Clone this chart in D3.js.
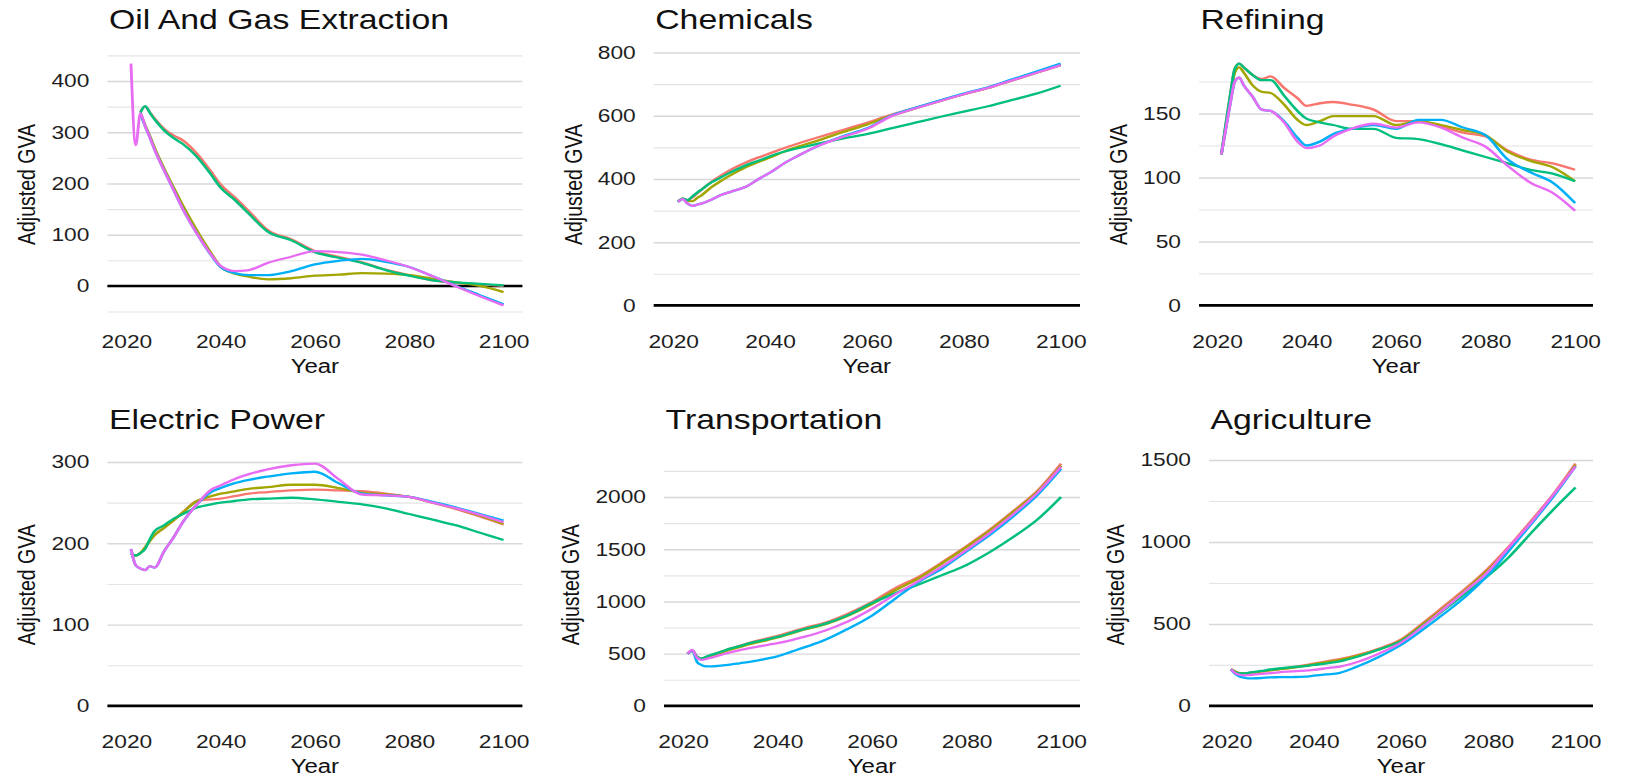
<!DOCTYPE html>
<html><head><meta charset="utf-8">
<script src="https://cdn.jsdelivr.net/npm/d3@7"></script>
<style>
body { margin: 0; background: #fff; }
svg text { font-family: 'Liberation Sans', Arial, sans-serif; }
</style>
</head>
<body>
<svg id="chart"></svg>
<script>
// years (all panels share them)
const years = [2021, 2022, 2023, 2024, 2025, 2026, 2028, 2030, 2032, 2035, 2038, 2040, 2043,
  2046, 2050, 2055, 2060, 2065, 2070, 2075, 2080, 2085, 2090, 2095, 2100];

const colors = ["#F8766D", "#A3A500", "#00BF7D", "#00B0F6", "#E76BF3"];
const titles = ["Oil And Gas Extraction", "Chemicals", "Refining",
  "Electric Power", "Transportation", "Agriculture"];
const xTicks = [2020, 2040, 2060, 2080, 2100];

// one row per series, in colour order
const oilGas = [
  [null, null, 340, 350, 339, 327, 307, 294, 284, 258, 223, 198, 173, 146, 109, 91, 68, 57, 46, 32, 21, 11, 6, 3, 0],
  [null, null, 337, 314, 293, 270, 230, 193, 157, 108, 64, 38, 24, 18, 13, 15, 20, 22, 25, 24, 21, 14, 7, 0, -12],
  [null, null, 338, 351, 338, 325, 304, 289, 277, 252, 217, 192, 168, 141, 106, 89, 66, 55, 45, 31, 20, 11, 7, 4, 1],
  [null, null, 337, 312, 290, 266, 226, 188, 150, 102, 60, 37, 25, 21, 21, 29, 42, 49, 53, 47, 37, 19, 0, -18, -36],
  [434, 275, 337, 312, 290, 266, 226, 188, 150, 102, 61, 39, 29, 31, 45, 57, 68, 66, 61, 50, 37, 19, -1, -20, -38]
];
const chemicals = [
  [328, 338, 333, 342, 355, 368, 392, 412, 430, 452, 470, 481, 498, 513, 532, 555, 578, 603, 625, 647, 668, 688, 712, 736, 761],
  [328, 338, 330, 330, 340, 350, 375, 395, 413, 437, 456, 468, 487, 503, 522, 548, 572, 600, 623, 646, 668, 688, 712, 736, 760],
  [328, 338, 333, 345, 357, 368, 390, 406, 422, 443, 460, 472, 487, 498, 512, 528, 542, 560, 578, 596, 613, 630, 650, 670, 695],
  [328, 336, 322, 315, 319, 323, 335, 350, 360, 375, 403, 420, 450, 475, 505, 535, 560, 600, 625, 648, 670, 690, 715, 740, 765],
  [328, 336, 322, 315, 319, 323, 335, 350, 360, 375, 403, 420, 450, 475, 505, 533, 558, 598, 623, 646, 668, 688, 712, 736, 760]
];
const refining = [
  [118, 142, 165, 185, 189, 186, 180, 177, 179, 170, 162, 156, 158, 159, 157, 153, 144, 144, 140, 135, 132, 121, 114, 111, 106],
  [118, 140, 162, 182, 186, 182, 172, 167, 166, 157, 145, 141, 144, 148, 148, 148, 141, 144, 141, 137, 133, 120, 113, 108, 97],
  [118, 142, 165, 185, 189, 186, 180, 176, 176, 164, 152, 146, 143, 141, 138, 138, 131, 130, 126, 121, 116, 111, 106, 103, 97],
  [118, 138, 158, 175, 178, 172, 163, 153, 152, 144, 131, 125, 128, 134, 138, 141, 138, 145, 145, 139, 133, 114, 104, 96, 80],
  [118, 138, 158, 175, 178, 172, 163, 153, 152, 143, 128, 123, 125, 132, 138, 142, 139, 143, 139, 131, 124, 109, 96, 88, 74]
];
const electric = [
  [187, 185, 188, 195, 203, 210, 219, 228, 238, 252, 254, 255, 258, 261, 263, 265, 266, 265, 264, 261, 257, 250, 242, 233, 223],
  [187, 185, 188, 195, 203, 210, 219, 228, 238, 252, 258, 261, 264, 267, 269, 272, 272, 268, 262, 260, 257, 250, 243, 234, 224],
  [187, 185, 188, 193, 205, 215, 222, 230, 236, 244, 248, 250, 252, 254, 255, 256, 254, 251, 248, 243, 236, 229, 222, 213, 204],
  [193, 173, 169, 167, 172, 170, 190, 207, 226, 248, 263, 268, 274, 278, 282, 286, 288, 274, 261, 259, 257, 251, 244, 236, 228],
  [193, 173, 169, 167, 172, 170, 190, 207, 226, 248, 266, 271, 279, 285, 291, 296, 298, 279, 260, 259, 257, 250, 243, 235, 226]
];
const transport = [
  [500, 530, 470, 450, 468, 485, 515, 548, 575, 615, 648, 670, 710, 750, 795, 885, 995, 1130, 1240, 1380, 1530, 1690, 1870, 2060, 2320],
  [500, 530, 470, 448, 462, 478, 508, 538, 563, 600, 632, 655, 695, 735, 780, 865, 975, 1110, 1225, 1370, 1520, 1680, 1860, 2050, 2300],
  [500, 530, 470, 455, 472, 488, 518, 548, 573, 610, 640, 660, 700, 740, 785, 870, 985, 1080, 1165, 1255, 1350, 1475, 1620, 1785, 2000],
  [500, 530, 420, 390, 378, 378, 385, 395, 408, 428, 455, 475, 520, 565, 630, 740, 865, 1030, 1190, 1320, 1480, 1640, 1820, 2020, 2270],
  [500, 535, 460, 440, 450, 462, 488, 513, 533, 560, 585, 600, 630, 665, 720, 810, 930, 1070, 1200, 1340, 1495, 1660, 1840, 2040, 2290]
];
const agriculture = [
  [223, 210, 200, 198, 200, 203, 210, 218, 225, 235, 248, 258, 272, 285, 310, 350, 405, 505, 612, 720, 840, 980, 1135, 1295, 1478],
  [223, 210, 200, 198, 200, 203, 210, 217, 223, 232, 244, 254, 267, 280, 305, 345, 400, 497, 602, 712, 830, 970, 1125, 1285, 1470],
  [223, 205, 198, 198, 202, 206, 213, 222, 228, 236, 243, 250, 260, 272, 300, 345, 395, 488, 588, 690, 795, 915, 1060, 1200, 1332],
  [223, 195, 180, 172, 168, 168, 170, 174, 175, 176, 178, 184, 192, 202, 240, 300, 372, 465, 565, 672, 800, 955, 1115, 1280, 1461],
  [223, 200, 190, 186, 188, 190, 195, 200, 205, 210, 215, 220, 230, 240, 268, 320, 386, 485, 595, 705, 820, 975, 1125, 1290, 1461]
];

const oilTicks = [0, 100, 200, 300, 400];
const chemTicks = [0, 200, 400, 600, 800];
const refTicks = [0, 50, 100, 150];
const elecTicks = [0, 100, 200, 300];
const transTicks = [0, 500, 1000, 1500, 2000];
const agriTicks = [0, 500, 1000, 1500];

// the picture is stretched sideways, so draw in a narrower space and let the viewBox stretch it
const W = 1627, H = 778, S = 1.23;
const svg = d3.select("#chart")
  .attr("width", W).attr("height", H)
  .attr("viewBox", [0, 0, W / S, H])
  .attr("preserveAspectRatio", "none");

// panel boxes in screen px: left, right, top, bottom
const panels = [
  {title: titles[0], data: oilGas, ticks: oilTicks, box: [107.4, 522.4, 51.5, 317.5]},
  {title: titles[1], data: chemicals, ticks: chemTicks, box: [653.7, 1080, 51.5, 317.5]},
  {title: titles[2], data: refining, ticks: refTicks, box: [1199, 1593, 51.5, 317.5]},
  {title: titles[3], data: electric, ticks: elecTicks, box: [107.4, 522.4, 451.5, 718]},
  {title: titles[4], data: transport, ticks: transTicks, box: [664, 1080, 451.5, 718]},
  {title: titles[5], data: agriculture, ticks: agriTicks, box: [1209, 1593, 451.5, 718]}
];

panels.forEach(p => {
  const [l, r, t, b] = p.box;
  const g = svg.append("g");
  const x = d3.scaleLinear().domain([2016, 2104]).range([l / S, r / S]);

  const vals = p.data.flat().filter(v => v != null).concat([0]);
  const [lo, hi] = d3.extent(vals);
  const pad = (hi - lo) * 0.05;
  const y = d3.scaleLinear().domain([lo - pad, hi + pad]).range([b, t]);

  const step = p.ticks[1] - p.ticks[0];
  const minor = [];
  for (let v = p.ticks[0] - step * 1.5; v <= hi + pad; v += step) {
    if (v >= lo - pad) minor.push(v);
  }

  // minor grid
  g.append("g").attr("transform", `translate(${l / S},0)`)
    .call(d3.axisLeft(y).tickValues(minor).tickSize(-(r - l) / S).tickFormat(""))
    .call(a => a.select(".domain").remove())
    .call(a => a.selectAll("line").attr("stroke", "#e4e4e4").attr("stroke-width", 1.1));

  // major grid + labels
  const yAxis = g.append("g").attr("transform", `translate(${l / S},0)`)
    .attr("font-family", null).attr("font-size", null)
    .call(d3.axisLeft(y).tickValues(p.ticks).tickSize(-(r - l) / S).tickPadding(18 / S)
      .tickFormat(d3.format("d")));
  yAxis.select(".domain").remove();
  yAxis.selectAll("line").attr("stroke", "#d8d8d8").attr("stroke-width", 1.4);
  yAxis.selectAll("text").attr("font-size", 18.5).attr("fill", "#1e1e1e");

  // zero line
  g.append("line")
    .attr("x1", x(2016)).attr("x2", x(2104))
    .attr("y1", y(0)).attr("y2", y(0))
    .attr("stroke", "#000").attr("stroke-width", 2.6);

  // x axis
  const xAxis = g.append("g").attr("transform", `translate(0,${b})`)
    .attr("font-family", null).attr("font-size", null)
    .call(d3.axisBottom(x).tickValues(xTicks).tickSize(0).tickPadding(17).tickFormat(d3.format("d")));
  xAxis.select(".domain").remove();
  xAxis.selectAll("text").attr("font-size", 18.5).attr("fill", "#1e1e1e");

  // series
  const line = d3.line()
    .defined(v => v != null)
    .x((v, j) => x(years[j]))
    .y(v => y(v))
    .curve(d3.curveMonotoneX);
  p.data.forEach((s, k) => {
    g.append("path")
      .attr("d", line(s))
      .attr("fill", "none")
      .attr("stroke", colors[k])
      .attr("stroke-width", 2.3)
      .attr("stroke-linejoin", "round");
  });

  // titles
  g.append("text")
    .attr("x", (l + 1.5) / S).attr("y", t - 22)
    .attr("font-size", 27.5).attr("fill", "#111")
    .text(p.title);

  g.append("text")
    .attr("x", (l + r) / 2 / S).attr("y", b + 55.5)
    .attr("text-anchor", "middle").attr("font-size", 19.5).attr("fill", "#111")
    .text("Year");

  const labelW = d3.max(yAxis.selectAll("text").nodes(), n => n.getComputedTextLength());
  const xb = (l - 18) / S - labelW - 16 / S;
  g.append("text")
    .attr("transform", `translate(${xb},${(t + b) / 2}) rotate(-90)`)
    .attr("text-anchor", "middle").attr("font-size", 19.5).attr("fill", "#111")
    .text("Adjusted GVA");
});
</script>
</body>
</html>
